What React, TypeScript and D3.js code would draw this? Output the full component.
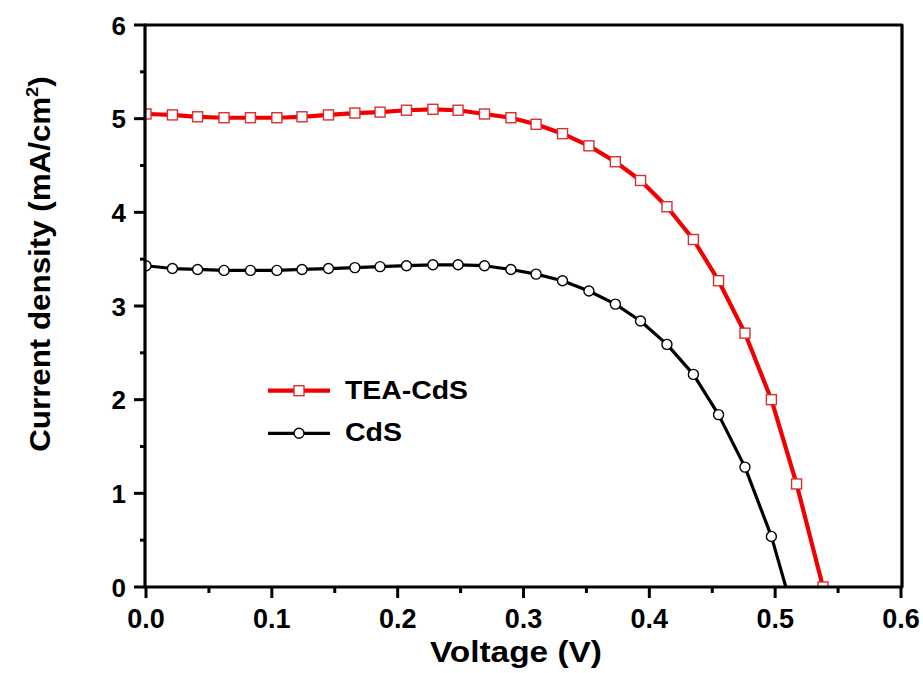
import React from "react";
import * as d3 from "d3";

const voltage = [0, 0.021, 0.041, 0.062, 0.083, 0.104, 0.124, 0.145, 0.166, 0.186, 0.207, 0.228, 0.248, 0.269, 0.290, 0.310, 0.331, 0.352, 0.373, 0.393, 0.414, 0.435, 0.455, 0.476, 0.497, 0.517, 0.538];
const teaCdS = [5.05, 5.04, 5.02, 5.01, 5.01, 5.01, 5.02, 5.04, 5.06, 5.07, 5.09, 5.10, 5.09, 5.05, 5.01, 4.94, 4.84, 4.71, 4.54, 4.34, 4.06, 3.71, 3.27, 2.71, 2.00, 1.10, 0.00];
const cdS = [3.43, 3.40, 3.39, 3.38, 3.38, 3.38, 3.39, 3.40, 3.41, 3.42, 3.43, 3.44, 3.44, 3.43, 3.39, 3.34, 3.27, 3.16, 3.02, 2.84, 2.59, 2.27, 1.84, 1.28, 0.54, -0.40];
const xTicks = [0, 0.1, 0.2, 0.3, 0.4, 0.5, 0.6];
const xMinor = [0.05, 0.15, 0.25, 0.35, 0.45, 0.55];
const yTicks = [0, 1, 2, 3, 4, 5, 6];
const yMinor = [0.5, 1.5, 2.5, 3.5, 4.5, 5.5];
const seriesNames = ["TEA-CdS", "CdS"];

const FONT = "'Liberation Sans', Arial, Helvetica, sans-serif";

export default function App() {
  const W = 923, H = 673;
  const L = 146, R = 901, T = 25, B = 587;
  const x = d3.scaleLinear().domain([0, 0.6]).range([L, R]);
  const y = d3.scaleLinear().domain([0, 6]).range([B, T]);

  const teaPts = voltage.map((v, i) => [v, teaCdS[i]] as [number, number]);
  const cdsPts = cdS.map((c, i) => [voltage[i], c] as [number, number]);
  const line = d3.line<[number, number]>().x(d => x(d[0])).y(d => y(d[1]));

  const sq = 10;
  const cr = 5;
  const legY1 = 390.7, legY2 = 433.3;

  return (
    <svg width={W} height={H} style={{ position: "fixed", left: 0, top: 0, background: "#fff" }} fontFamily={FONT}>
      <defs>
        <clipPath id="plotClip">
          <rect x={L} y={T} width={R - L} height={B - T} />
        </clipPath>
      </defs>
      <rect x={0} y={0} width={W} height={H} fill="#fff" />
      <g clipPath="url(#plotClip)">
        <path d={line(cdsPts) || ""} fill="none" stroke="#000" strokeWidth={3.2} strokeLinejoin="round" />
        {cdsPts.map((p, i) => (
          <circle key={"c" + i} cx={x(p[0])} cy={y(p[1])} r={cr} fill="#fff" stroke="#000" strokeWidth={1.4} />
        ))}
        <path d={line(teaPts) || ""} fill="none" stroke="#f00000" strokeWidth={4.2} strokeLinejoin="round" />
        {teaPts.map((p, i) => (
          <rect key={"s" + i} x={x(p[0]) - sq / 2} y={y(p[1]) - sq / 2} width={sq} height={sq} fill="#fff" stroke="#d83030" strokeWidth={1.4} />
        ))}
      </g>
      {/* frame */}
      <rect x={L - 1} y={T} width={R - L + 2} height={B - T} fill="none" stroke="#000" strokeWidth={3.2} strokeLinejoin="round" />
      {/* x ticks */}
      {xTicks.map(t => (
        <g key={"xt" + t}>
          <line x1={x(t)} x2={x(t)} y1={B} y2={B + 11} stroke="#000" strokeWidth={3} />
          <text x={x(t)} y={628} textAnchor="middle" fontSize={27} fontWeight="bold">{t.toFixed(1)}</text>
        </g>
      ))}
      {xMinor.map(t => (
        <line key={"xm" + t} x1={x(t)} x2={x(t)} y1={B} y2={B + 6} stroke="#000" strokeWidth={3} />
      ))}
      {/* y ticks */}
      {yTicks.map(t => (
        <g key={"yt" + t}>
          <line x1={L - 12} x2={L} y1={y(t)} y2={y(t)} stroke="#000" strokeWidth={3} />
          <text x={126} y={y(t) + 9.5} textAnchor="end" fontSize={26} fontWeight="bold">{t}</text>
        </g>
      ))}
      {yMinor.map(t => (
        <line key={"ym" + t} x1={L - 6} x2={L} y1={y(t)} y2={y(t)} stroke="#000" strokeWidth={3} />
      ))}
      {/* axis titles */}
      <text x={516} y={662} textAnchor="middle" fontSize={29} fontWeight="bold" textLength={172} lengthAdjust="spacingAndGlyphs">Voltage (V)</text>
      <g transform="translate(50,264) rotate(-90) scale(1.08,1)">
        <text x={0} y={0} textAnchor="middle" fontSize={29} fontWeight="bold">
          Current density (mA/cm<tspan fontSize={17} dy={-12}>2</tspan><tspan dy={12}>)</tspan>
        </text>
      </g>
      {/* legend */}
      <g>
        <line x1={268} x2={330} y1={legY1} y2={legY1} stroke="#f00000" strokeWidth={4.2} />
        <rect x={299 - 5} y={legY1 - 5} width={10} height={10} fill="#fff" stroke="#d83030" strokeWidth={1.4} />
        <text x={345} y={398.5} fontSize={25} fontWeight="bold" textLength={123} lengthAdjust="spacingAndGlyphs">{seriesNames[0]}</text>
        <line x1={268} x2={330} y1={legY2} y2={legY2} stroke="#000" strokeWidth={3.2} />
        <circle cx={299} cy={legY2} r={5} fill="#fff" stroke="#000" strokeWidth={1.4} />
        <text x={345} y={441} fontSize={25} fontWeight="bold" textLength={57} lengthAdjust="spacingAndGlyphs">{seriesNames[1]}</text>
      </g>
    </svg>
  );
}
